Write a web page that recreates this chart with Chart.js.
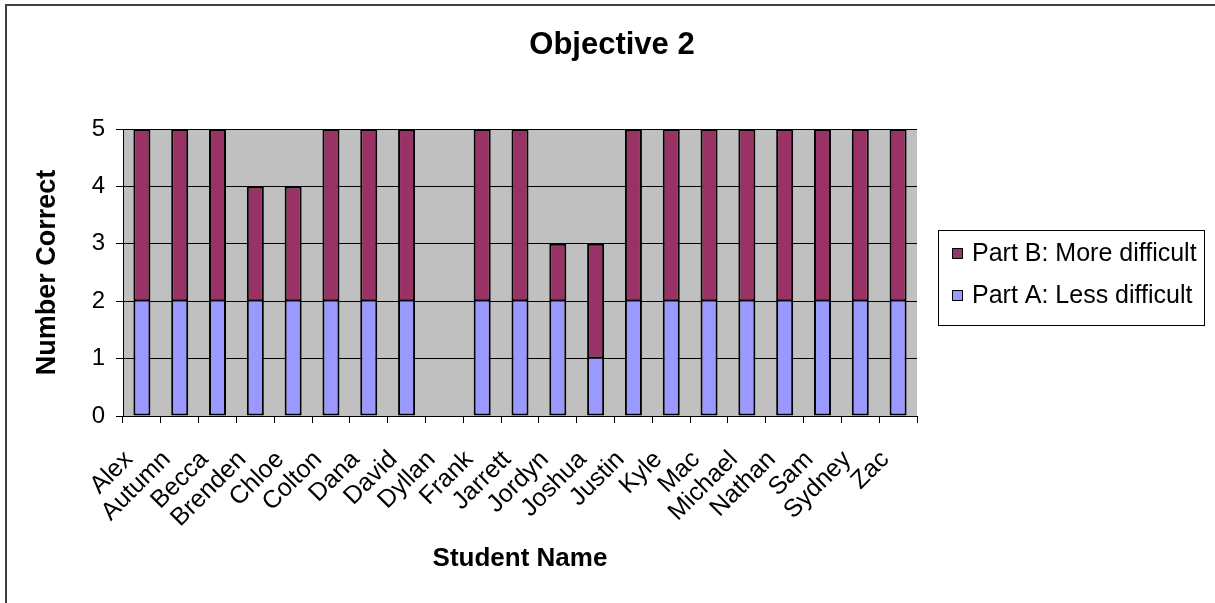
<!DOCTYPE html>
<html lang="en">
<head>
<meta charset="UTF-8">
<title>Objective 2</title>
<script src="https://cdn.jsdelivr.net/npm/chart.js@4.4.7/dist/chart.umd.min.js"></script>
<style>
  body { margin: 0; background: #fff; }
  canvas { display: block; }
</style>
</head>
<body>
<canvas id="chart" width="1215" height="603"></canvas>
<script>
// data
const students = ['Alex', 'Autumn', 'Becca', 'Brenden', 'Chloe', 'Colton', 'Dana', 'David', 'Dyllan', 'Frank',
  'Jarrett', 'Jordyn', 'Joshua', 'Justin', 'Kyle', 'Mac', 'Michael', 'Nathan', 'Sam', 'Sydney', 'Zac'];
const partA = [2, 2, 2, 2, 2, 2, 2, 2, 0, 2, 2, 2, 1, 2, 2, 2, 2, 2, 2, 2, 2];
const partB = [3, 3, 3, 2, 2, 3, 3, 3, 0, 3, 3, 1, 2, 3, 3, 3, 3, 3, 3, 3, 3];
const yTicks = [0, 1, 2, 3, 4, 5];
const chartTitle = 'Objective 2';

const FONT = "'Liberation Sans', Arial, sans-serif";

// gray plot area, frame lines at top/left, and the title (centred on the whole page, not the plot)
const backdrop = {
  id: 'backdrop',
  beforeDraw(chart) {
    const { ctx, chartArea: a } = chart;
    ctx.save();
    ctx.fillStyle = '#C0C0C0';
    ctx.fillRect(a.left, a.top, a.right - a.left, a.bottom - a.top);
    ctx.fillStyle = '#404040';
    ctx.fillRect(5, 4, chart.width - 5, 2);
    ctx.fillRect(5, 4, 2, chart.height - 4);
    ctx.fillStyle = '#000';
    ctx.font = 'bold 31px ' + FONT;
    ctx.textAlign = 'center';
    ctx.textBaseline = 'middle';
    ctx.fillText(chartTitle, 612, 45);
    ctx.restore();
  }
};

// boxed legend on the right, B on top
const boxLegend = {
  id: 'boxLegend',
  afterDraw(chart) {
    const ctx = chart.ctx;
    ctx.save();
    ctx.strokeStyle = '#000';
    ctx.lineWidth = 1;
    ctx.strokeRect(938.5, 230.5, 266, 95);
    ctx.font = '25px ' + FONT;
    ctx.textBaseline = 'middle';
    const ds = chart.data.datasets.slice().reverse();
    ds.forEach((d, i) => {
      const cy = 253 + i * 42;
      ctx.fillStyle = d.backgroundColor;
      ctx.fillRect(952, cy - 5, 11, 11);
      ctx.strokeStyle = '#000';
      ctx.strokeRect(952.5, cy - 4.5, 10, 10);
      ctx.fillStyle = '#000';
      ctx.fillText(d.label, 972, cy + 1);
    });
    ctx.restore();
  }
};

new Chart(document.getElementById('chart'), {
  type: 'bar',
  data: {
    labels: students,
    datasets: [
      {
        label: 'Part A: Less difficult',
        data: partA,
        backgroundColor: '#9999FF',
        borderColor: '#000',
        borderWidth: 2,
        borderSkipped: 'top',
        barPercentage: 0.45,
        categoryPercentage: 1
      },
      {
        label: 'Part B: More difficult',
        data: partB,
        backgroundColor: '#993366',
        borderColor: '#000',
        borderWidth: 2,
        borderSkipped: false,
        barPercentage: 0.45,
        categoryPercentage: 1
      }
    ]
  },
  options: {
    responsive: false,
    animation: false,
    layout: { padding: { top: 129, left: 0, right: 298, bottom: 0 } },
    plugins: {
      legend: { display: false },
      tooltip: { enabled: false },
      title: { display: false }
    },
    scales: {
      x: {
        stacked: true,
        afterFit(scale) { scale.height = 187; },
        grid: { drawOnChartArea: false, drawTicks: true, tickLength: 7, tickColor: '#000', offset: true },
        border: { color: '#000', width: 1 },
        ticks: {
          color: '#000',
          font: { family: FONT, size: 25 },
          minRotation: 45,
          maxRotation: 45,
          autoSkip: false,
          padding: 22,
          labelOffset: -13
        },
        title: {
          display: true,
          text: 'Student Name',
          color: '#000',
          font: { family: FONT, size: 26, weight: 'bold' },
          padding: { top: 0, bottom: 29 }
        }
      },
      y: {
        stacked: true,
        min: yTicks[0],
        max: yTicks[yTicks.length - 1],
        afterFit(scale) { scale.width = 123; },
        afterBuildTicks(scale) { scale.ticks = yTicks.map(v => ({ value: v })); },
        grid: { color: '#000', lineWidth: 1, tickLength: 7, tickColor: '#000' },
        border: { color: '#000', width: 1 },
        ticks: {
          color: '#000',
          font: { family: FONT, size: 24 },
          padding: 11
        },
        title: {
          display: true,
          text: 'Number Correct',
          color: '#000',
          font: { family: FONT, size: 27, weight: 'bold' },
          padding: { top: 31, bottom: 0 }
        }
      }
    }
  },
  plugins: [backdrop, boxLegend]
});
</script>
</body>
</html>
